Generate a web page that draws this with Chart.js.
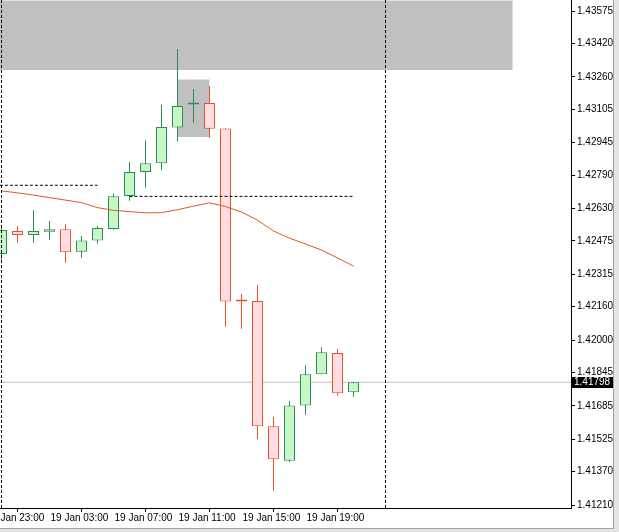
<!DOCTYPE html>
<html>
<head>
<meta charset="utf-8">
<script src="https://cdn.jsdelivr.net/npm/chart.js@4.4.1/dist/chart.umd.min.js"></script>
<style>
  html, body { margin: 0; padding: 0; background: #e4e4e4; }
  #frame { position: relative; width: 619px; height: 532px; background: #e4e4e4; }
  #wrap {
    position: absolute; left: 0; top: 0; width: 613px; height: 528px; background: #fff;
    border-right: 1px solid #a0a0a0; border-bottom: 1px solid #a0a0a0;
  }
</style>
</head>
<body>
<div id="frame"><div id="wrap"><canvas id="chart"></canvas></div></div>
<script>
// H1 bars, 19 Jan 00:00 .. 22:00 (index 0..22)
const opens  = [1.42412, 1.42522, 1.42503, 1.42518, 1.42530, 1.42423, 1.42477, 1.42532, 1.42690, 1.42804, 1.42847, 1.43018,
                1.43128, 1.43135, 1.43013, 1.42187, 1.42187, 1.41587, 1.41422, 1.41687, 1.41836, 1.41938, 1.41750];
const highs  = [1.42550, 1.42546, 1.42622, 1.42570, 1.42555, 1.42498, 1.42546, 1.42702, 1.42852, 1.42957, 1.43126, 1.43393,
                1.43202, 1.43216, 1.43013, 1.42220, 1.42263, 1.41633, 1.41708, 1.41880, 1.41966, 1.41957, 1.41798];
const lows   = [1.42383, 1.42466, 1.42466, 1.42479, 1.42370, 1.42394, 1.42461, 1.42528, 1.42667, 1.42729, 1.42814, 1.42951,
                1.43040, 1.42968, 1.42064, 1.42054, 1.41525, 1.41279, 1.41416, 1.41642, 1.41836, 1.41733, 1.41729];
const closes = [1.42527, 1.42503, 1.42522, 1.42531, 1.42420, 1.42477, 1.42536, 1.42688, 1.42804, 1.42847, 1.43020, 1.43120,
                1.43131, 1.43012, 1.42185, 1.42185, 1.41587, 1.41429, 1.41687, 1.41836, 1.41942, 1.41745, 1.41798];
// moving average
const maValues = [1.42714, 1.42705, 1.42694, 1.42682, 1.42670, 1.42658, 1.42634, 1.42621, 1.42615, 1.42609, 1.42610, 1.42624,
                  1.42641, 1.42657, 1.42639, 1.42613, 1.42574, 1.42522, 1.42488, 1.42460, 1.42431, 1.42393, 1.42354];

const xTickIndex  = [-1, 3, 7, 11, 15, 19];
const xTickLabels = ['18 Jan 23:00', '19 Jan 03:00', '19 Jan 07:00', '19 Jan 11:00', '19 Jan 15:00', '19 Jan 19:00'];
const yTickValues = [1.41210, 1.41370, 1.41525, 1.41685, 1.41845, 1.42000, 1.42160, 1.42315,
                     1.42475, 1.42630, 1.42790, 1.42945, 1.43105, 1.43260, 1.43420, 1.43575];
const lastPrice = 1.41798;

// drawn objects: zones, levels
const zoneTop    = { from: -0.1, to: 31.95, hi: 1.43623, lo: 1.43293 };
const zoneSmall  = { from: 11, to: 13, hi: 1.43245, lo: 1.42972 };
const levelLeft  = { from: -0.1, to: 6, price: 1.42741 };
const levelRight = { from: 8, to: 22, price: 1.42688 };
const vLines = [0, 24];

const X_MIN = -0.09375, X_MAX = 35.59375;
const Y_MIN = 1.41196, Y_MAX = 1.43628;

const bullFill = '#c6f8c6', bullLine = '#2e8b57';
const bearFill = '#ffdde2', bearLine = '#e4532a';
const isBull = opens.map((o, i) => closes[i] > o);

const bodies = opens.map((o, i) => ({ x: i, y: [o, closes[i]] }));
const wicks = lows.map((l, i) => ({ x: i, y: [l, highs[i]] }));

function hLine(from, to, y) {
    return [{ x: from, y: y }, { x: to, y: y }];
}

const priceTag = {
    id: 'priceTag',
    afterDraw(chart) {
        const { ctx, chartArea, scales } = chart;
        const y = Math.round(scales.y.getPixelForValue(lastPrice));
        ctx.save();
        ctx.fillStyle = '#000';
        ctx.fillRect(chartArea.right + 1, y - 5, chart.width - chartArea.right - 1, 11);
        ctx.fillStyle = '#fff';
        ctx.font = '10px "Liberation Sans", Arial, sans-serif';
        ctx.textBaseline = 'middle';
        ctx.fillText(lastPrice.toFixed(5), chartArea.right + 3, y + 0.5);
        ctx.restore();
    }
};

new Chart(document.getElementById('chart'), {
    type: 'bar',
    data: {
        datasets: [
            {
                type: 'line', order: 3, data: maValues.map((v, i) => ({ x: i, y: v })),
                borderColor: '#dc5a22', borderWidth: 1, pointRadius: 0, tension: 0
            },
            {
                type: 'line', order: 2, data: hLine(levelLeft.from, levelLeft.to, levelLeft.price),
                borderColor: '#000', borderWidth: 1, borderDash: [3, 2], pointRadius: 0
            },
            {
                type: 'line', order: 2, data: hLine(levelRight.from, levelRight.to, levelRight.price),
                borderColor: '#000', borderWidth: 1, borderDash: [3, 2], pointRadius: 0
            },
            ...vLines.map(v => ({
                type: 'line', order: 2, data: [{ x: v, y: Y_MIN }, { x: v, y: Y_MAX }],
                borderColor: '#000', borderWidth: 1, borderDash: [3, 2], pointRadius: 0
            })),
            {
                data: bodies, order: 4, grouped: false, barThickness: 11, minBarLength: 2,
                backgroundColor: isBull.map(b => b ? bullFill : bearFill),
                borderColor: isBull.map(b => b ? bullLine : bearLine),
                borderWidth: 1, borderSkipped: false, inflateAmount: 0
            },
            {
                data: wicks, order: 5, grouped: false, barThickness: 1,
                backgroundColor: isBull.map(b => b ? bullLine : bearLine),
                borderWidth: 0, inflateAmount: 0
            },
            {
                type: 'line', order: 8, data: hLine(X_MIN, X_MAX, lastPrice),
                borderColor: '#c0c0c0', borderWidth: 1, pointRadius: 0
            },
            {
                type: 'line', order: 9, data: hLine(zoneSmall.from, zoneSmall.to, zoneSmall.hi),
                borderColor: '#c0c0c0', borderWidth: 1, pointRadius: 0,
                fill: { value: zoneSmall.lo }, backgroundColor: '#c0c0c0'
            },
            {
                type: 'line', order: 10, data: hLine(zoneTop.from, zoneTop.to, zoneTop.hi),
                borderColor: '#c0c0c0', borderWidth: 1, pointRadius: 0,
                fill: { value: zoneTop.lo }, backgroundColor: '#c0c0c0'
            }
        ]
    },
    options: {
        responsive: true,
        maintainAspectRatio: false,
        animation: false,
        layout: { padding: 0 },
        plugins: {
            legend: { display: false },
            tooltip: { enabled: false }
        },
        scales: {
            x: {
                type: 'linear',
                offset: false,
                min: X_MIN,
                max: X_MAX,
                afterBuildTicks: scale => { scale.ticks = xTickIndex.map(v => ({ value: v })); },
                afterFit: scale => { scale.height = 20; scale.paddingLeft = 0; scale.paddingRight = 0; },
                ticks: {
                    autoSkip: false,
                    maxRotation: 0,
                    align: 'start',
                    labelOffset: 1,
                    padding: 0,
                    color: '#000',
                    font: { family: '"Liberation Sans Narrow", "Liberation Sans", Arial', size: 10 },
                    callback: (value, index) => xTickLabels[index]
                },
                grid: { drawOnChartArea: false, tickLength: 4, color: '#000' },
                border: { color: '#000', width: 1 }
            },
            y: {
                type: 'linear',
                position: 'right',
                min: Y_MIN,
                max: Y_MAX,
                afterBuildTicks: scale => { scale.ticks = yTickValues.map(v => ({ value: v })); },
                afterFit: scale => { scale.width = 42; scale.paddingTop = 0; scale.paddingBottom = 0; },
                ticks: {
                    padding: 2,
                    color: '#000',
                    font: { family: '"Liberation Sans", Arial', size: 10 },
                    callback: value => value.toFixed(5)
                },
                grid: { drawOnChartArea: false, tickLength: 4, color: '#000' },
                border: { color: '#000', width: 1 }
            }
        }
    },
    plugins: [priceTag]
});
</script>
</body>
</html>
